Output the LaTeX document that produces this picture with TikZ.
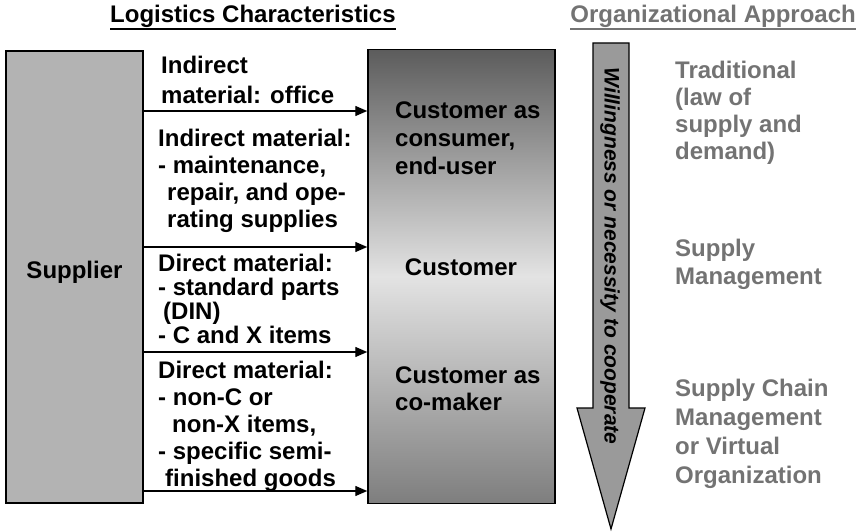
\documentclass[tikz,border=0pt]{standalone}
\usepackage{fontspec}
\setmainfont{Liberation Sans}
\usetikzlibrary{positioning, arrows.meta, calc}
\definecolor{approach}{HTML}{737373}
\definecolor{supplierfill}{HTML}{B3B3B3}
\definecolor{arrowfill}{HTML}{9A9A9A}
\definecolor{custtop}{HTML}{5C5C5C}
\definecolor{custmid}{HTML}{E3E3E3}
\definecolor{custbot}{HTML}{7E7E7E}

\begin{document}
\begin{tikzpicture}[x=1pt, y=-1pt,
    every node/.style={inner sep=0pt, font=\bfseries\fontsize{24}{27}\selectfont},
    block/.style={draw, line width=1.5pt},
    flow/.style={-{Triangle[length=12pt, width=10pt]}, line width=1.4pt},
    lefttext/.style={anchor=north west, align=left},
    approachtext/.style={anchor=north west, align=left, text=approach}]
        \useasboundingbox (0,0) rectangle (861,532);
        % headings
        \node[anchor=base west] (logtitle) at (110,23) {Logistics Characteristics};
        \node[anchor=base east, text=approach] (orgtitle) at (856,23) {Organizational Approach};
        \draw[line width=1.8pt] ([yshift=-6pt]logtitle.base west) -- ([yshift=-6pt]logtitle.base east);
        \draw[line width=1.8pt, approach] ([yshift=-6pt]orgtitle.base west) -- ([yshift=-6pt]orgtitle.base east);
        % supplier and customer
        \node[block, fill=supplierfill, minimum width=137pt, minimum height=452pt] (supplier) at (74.5,277) {};
        \node[anchor=base] (suplabel) at (74.5,278) {Supplier};
        \node[block, top color=custtop, bottom color=custbot, middle color=custmid, minimum width=187pt, minimum height=454pt] (customer) at (461.5,276.5) {};
        \node[lefttext, font=\bfseries\fontsize{24}{28}\selectfont] (cust1) at (395,102) {Customer as\\consumer,\\end-user};
        \node[anchor=base] (cust2) at (461,275) {Customer};
        \node[lefttext] (cust3) at (395,367) {Customer as\\co-maker};
        % material flows
        \foreach \y in {111,247,352,491}
            \draw[flow] (supplier.east |- 0,\y) -- (customer.west |- 0,\y);
        \node[lefttext, font=\bfseries\fontsize{24}{30}\selectfont] (mat1) at (161,56) {Indirect\\material: office};
        \node[lefttext] (mat2) at (158,129) {Indirect material:\\- maintenance,\\\hspace*{9pt}repair, and ope-\\\hspace*{9pt}rating supplies};
        \node[lefttext, font=\bfseries\fontsize{24}{24}\selectfont] (mat3) at (158,254) {Direct material:\\- standard parts\\\hspace*{5pt}(DIN)\\- C and X items};
        \node[lefttext] (mat4) at (158,361) {Direct material:\\- non-C or\\\hspace*{14pt}non-X items,\\- specific semi-\\\hspace*{7pt}finished goods};
        % cooperation arrow
        \draw[line width=1.2pt, fill=arrowfill] (593,43) -- (629,43) -- (629,408) -- (645,408) -- (611,529) -- (577,408) -- (593,408) -- cycle;
        \node[rotate=-90, font=\bfseries\itshape\fontsize{21}{24}\selectfont] (coop) at (610,256) {Willingness or necessity to cooperate};
        % approaches
        \node[approachtext] (appr1) at (675,61) {Traditional\\(law of\\supply and\\demand)};
        \node[approachtext, font=\bfseries\fontsize{24}{28}\selectfont] (appr2) at (675,239) {Supply\\Management};
        \node[approachtext, font=\bfseries\fontsize{24}{29}\selectfont] (appr3) at (675,379) {Supply Chain\\Management\\or Virtual\\Organization};
      \end{tikzpicture}
\end{document}
